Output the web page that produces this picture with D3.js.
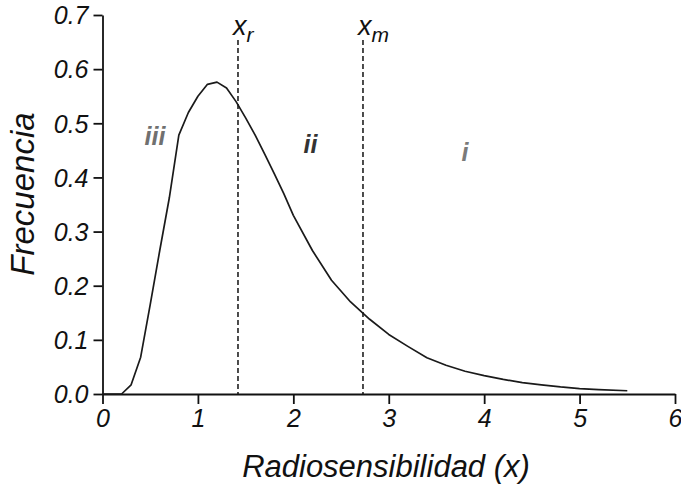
<!DOCTYPE html>
<html>
<head>
<meta charset="utf-8">
<script src="https://cdn.jsdelivr.net/npm/d3@7"></script>
<style>
  html, body { margin: 0; padding: 0; background: #fff; }
  svg { display: block; }
  text { font-family: "Liberation Sans", Arial, Helvetica, sans-serif; font-style: italic; }
</style>
</head>
<body>
<svg id="chart" width="681" height="487"></svg>
<script>
// Distribution of radiosensitivity (x) vs. frequency
const xValues = [0, 0.1, 0.2, 0.3, 0.4, 0.5, 0.6, 0.7, 0.8, 0.9, 1.0, 1.1, 1.2, 1.3, 1.4,
  1.5, 1.6, 1.7, 1.8, 1.9, 2.0, 2.2, 2.4, 2.6, 2.8, 3.0, 3.2, 3.4, 3.6, 3.8,
  4.0, 4.2, 4.4, 4.6, 4.8, 5.0, 5.2, 5.5];
const frequency = [0, 0, 0, 0.017, 0.068, 0.165, 0.265, 0.362, 0.478, 0.52, 0.55, 0.572, 0.576, 0.565, 0.54,
  0.51, 0.478, 0.443, 0.407, 0.37, 0.33, 0.265, 0.21, 0.17, 0.138, 0.11, 0.088, 0.067, 0.053, 0.042,
  0.034, 0.027, 0.021, 0.017, 0.013, 0.01, 0.008, 0.006];

// Threshold markers
const markerNames = ["r", "m"];
const markerX = [1.42, 2.73];

// Region labels
const regionNames = ["iii", "ii", "i"];
const regionX = [0.55, 2.18, 3.8];
const regionY = [0.46, 0.445, 0.43];
const regionColors = ["#707070", "#333333", "#7a7a7a"];

const xTicks = [0, 1, 2, 3, 4, 5, 6];
const yTicks = [0, 0.1, 0.2, 0.3, 0.4, 0.5, 0.6, 0.7];

const svg = d3.select("#chart");
const x = d3.scaleLinear().domain([0, 6]).range([102.5, 675]);
const y = d3.scaleLinear().domain([0, 0.7]).range([394, 15]);

// Axes
const xAxis = svg.append("g")
  .attr("transform", `translate(0,${y(0)})`)
  .call(d3.axisBottom(x).tickValues(xTicks).tickFormat(d3.format("d")).tickSize(10).tickSizeOuter(0).tickPadding(5));
const yAxis = svg.append("g")
  .attr("transform", `translate(${x(0)},0)`)
  .call(d3.axisLeft(y).tickValues(yTicks).tickFormat(d3.format(".1f")).tickSize(9).tickSizeOuter(0).tickPadding(5));

[xAxis, yAxis].forEach(g => {
  g.select(".domain").attr("stroke", "#111").attr("stroke-width", 1.8);
  g.selectAll(".tick line").attr("stroke", "#111").attr("stroke-width", 1.8);
  g.selectAll(".tick text")
    .attr("fill", "#111")
    .style("font-family", "'Liberation Sans', Arial, sans-serif")
    .style("font-style", "italic")
    .style("font-size", "25px");
});
yAxis.selectAll(".tick text").attr("dy", "0.35em");

// Dashed threshold lines
svg.append("g").selectAll("line")
  .data(markerX)
  .join("line")
  .attr("x1", d => x(d)).attr("x2", d => x(d))
  .attr("y1", 40).attr("y2", y(0))
  .attr("stroke", "#111")
  .attr("stroke-width", 1.5)
  .attr("stroke-dasharray", "5,3");

// Marker labels x_r, x_m
const mk = svg.append("g").selectAll("text")
  .data(markerX)
  .join("text")
  .attr("x", d => x(d) - 5)
  .attr("y", 35)
  .attr("fill", "#111")
  .style("font-size", "27px");
mk.append("tspan").text("x");
mk.append("tspan")
  .attr("dy", 7)
  .style("font-size", "21px")
  .text((d, i) => markerNames[i]);

// Frequency curve
const line = d3.line()
  .x((d, i) => x(xValues[i]))
  .y(d => y(d));
svg.append("path")
  .datum(frequency)
  .attr("fill", "none")
  .attr("stroke", "#1a1a1a")
  .attr("stroke-width", 1.7)
  .attr("stroke-linejoin", "round")
  .attr("d", line);

// Region labels
svg.append("g").selectAll("text")
  .data(regionNames)
  .join("text")
  .attr("x", (d, i) => x(regionX[i]))
  .attr("y", (d, i) => y(regionY[i]))
  .attr("text-anchor", "middle")
  .attr("fill", (d, i) => regionColors[i])
  .style("font-weight", "bold")
  .style("font-size", "25px")
  .text(d => d);

// Axis titles
svg.append("text")
  .attr("x", 386)
  .attr("y", 477)
  .attr("text-anchor", "middle")
  .attr("fill", "#111")
  .style("font-size", "31px")
  .text("Radiosensibilidad (x)");

svg.append("text")
  .attr("transform", "translate(34,194) rotate(-90)")
  .attr("text-anchor", "middle")
  .attr("fill", "#111")
  .style("font-size", "33px")
  .text("Frecuencia");
</script>
</body>
</html>
